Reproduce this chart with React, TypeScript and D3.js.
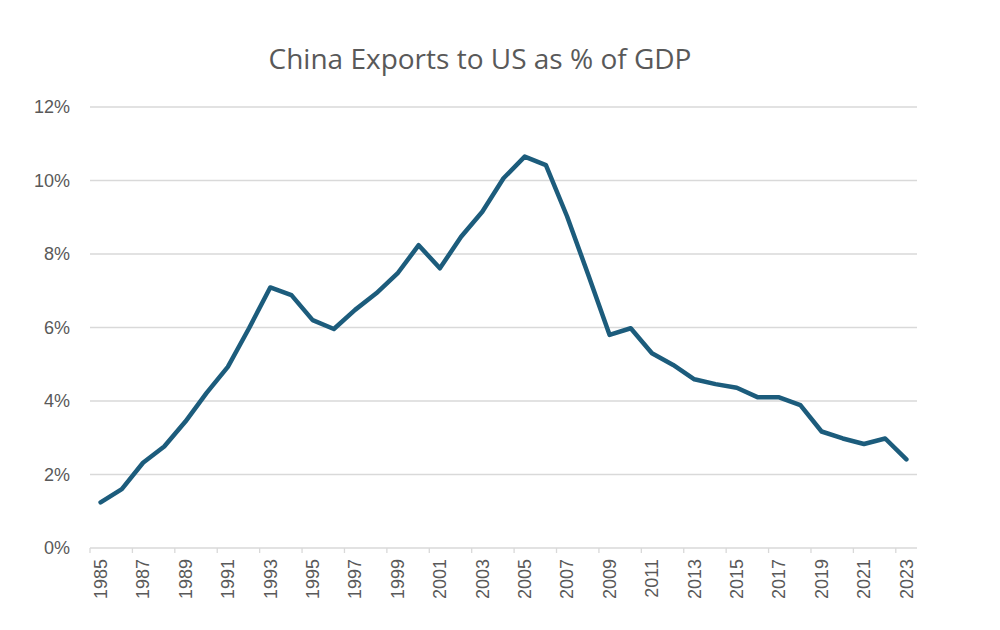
import React, { useEffect, useRef } from "react";
import * as d3 from "d3";

// Years on the category axis
const years: number[] = d3.range(1985, 2024);

// China exports to US as % of GDP
const exportShare: number[] = [
  1.24, 1.6, 2.32, 2.76, 3.44, 4.22, 4.93, 5.98, 7.09, 6.88,
  6.2, 5.96, 6.48, 6.93, 7.47, 8.24, 7.61, 8.47, 9.15, 10.06,
  10.65, 10.42, 9.02, 7.43, 5.8, 5.98, 5.3, 4.98, 4.59, 4.46,
  4.36, 4.1, 4.1, 3.89, 3.17, 2.98, 2.83, 2.98, 2.41,
];

// Y axis ticks (percent)
const yTicks: number[] = [0, 2, 4, 6, 8, 10, 12];

const title = "China Exports to US as % of GDP";

export default function App() {
  const ref = useRef<SVGSVGElement>(null);

  useEffect(() => {
    const width = 1000,
      height = 630;
    const margin = { top: 107, right: 83, bottom: 82, left: 90 };
    const innerW = width - margin.left - margin.right;
    const innerH = height - margin.top - margin.bottom;
    const textColor = "#595959";
    const gridColor = "#d9d9d9";
    const lineColor = "#1c5c7c";
    const labelFont = "Liberation Sans, Arial, sans-serif";

    const svg = d3.select(ref.current);
    svg.selectAll("*").remove();

    // Category scale: one band per year
    const x = d3
      .scaleBand<number>()
      .domain(years)
      .range([0, innerW])
      .paddingInner(0)
      .paddingOuter(0);
    const y = d3.scaleLinear().domain([0, 12]).range([innerH, 0]);

    const g = svg
      .append("g")
      .attr("transform", "translate(" + margin.left + "," + margin.top + ")");

    // Horizontal gridlines
    g.selectAll(".grid")
      .data(yTicks.filter((t) => t > 0))
      .enter()
      .append("line")
      .attr("x1", 0)
      .attr("x2", innerW)
      .attr("y1", (d) => y(d))
      .attr("y2", (d) => y(d))
      .attr("stroke", gridColor)
      .attr("stroke-width", 1.3);

    // Y labels
    g.selectAll(".ylab")
      .data(yTicks)
      .enter()
      .append("text")
      .attr("x", -20)
      .attr("y", (d) => y(d))
      .attr("dy", "0.35em")
      .attr("text-anchor", "end")
      .attr("font-family", labelFont)
      .attr("font-size", 18)
      .attr("fill", textColor)
      .text((d) => d + "%");

    // X axis line
    g.append("line")
      .attr("x1", 0)
      .attr("x2", innerW)
      .attr("y1", innerH)
      .attr("y2", innerH)
      .attr("stroke", gridColor)
      .attr("stroke-width", 1.3);

    // Tick marks between categories, every second year
    const tickYears = years.filter((_, i) => i % 2 === 0);
    g.selectAll(".xtick")
      .data(tickYears)
      .enter()
      .append("line")
      .attr("x1", (d) => x(d)!)
      .attr("x2", (d) => x(d)!)
      .attr("y1", innerH)
      .attr("y2", innerH + 5)
      .attr("stroke", gridColor)
      .attr("stroke-width", 1.3);

    // Rotated year labels
    g.selectAll(".xlab")
      .data(tickYears)
      .enter()
      .append("text")
      .attr(
        "transform",
        (d) =>
          "translate(" + (x(d)! + x.bandwidth() / 2) + "," + (innerH + 11) + ") rotate(-90)"
      )
      .attr("dy", "0.35em")
      .attr("text-anchor", "end")
      .attr("font-family", labelFont)
      .attr("font-size", 18)
      .attr("fill", textColor)
      .text((d) => d);

    // Data line
    const line = d3
      .line<number>()
      .x((d, i) => x(years[i])! + x.bandwidth() / 2)
      .y((d) => y(d));

    g.append("path")
      .datum(exportShare)
      .attr("d", line)
      .attr("fill", "none")
      .attr("stroke", lineColor)
      .attr("stroke-width", 4.5)
      .attr("stroke-linejoin", "round")
      .attr("stroke-linecap", "round");

    // Title
    svg
      .append("text")
      .attr("x", 480)
      .attr("y", 69)
      .attr("text-anchor", "middle")
      .attr("font-family", "Open Sans, sans-serif")
      .attr("font-size", 28)
      .attr("fill", textColor)
      .text(title);
  }, []);

  return (
    <svg
      ref={ref}
      width={1000}
      height={630}
      style={{ position: "absolute", left: 0, top: 0, background: "#fff" }}
    ></svg>
  );
}
